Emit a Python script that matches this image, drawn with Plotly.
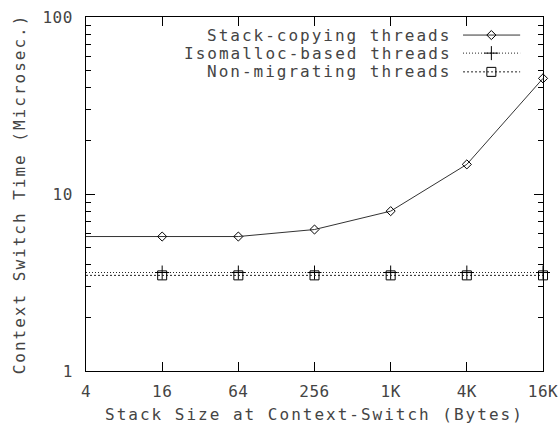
import plotly.graph_objects as go

# ---- data ----
stack_sizes = [4, 16, 64, 256, 1024, 4096, 16384]
x_tick_labels = ["4", "16", "64", "256", "1K", "4K", "16K"]
stack_copying = [5.75, 5.75, 5.75, 6.3, 8.0, 14.7, 45.0]
isomalloc = [3.6, 3.6, 3.6, 3.6, 3.6, 3.6, 3.6]
non_migrating = [3.47, 3.47, 3.47, 3.47, 3.47, 3.47, 3.47]
series_names = ["Stack-copying threads", "Isomalloc-based threads", "Non-migrating threads"]
y_tick_vals = [1, 10, 100]
y_tick_labels = ["1", "10", "100"]
x_title = "Stack Size at Context-Switch (Bytes)"
y_title = "Context Switch Time (Microsec.)"

FONT = "DejaVu Sans Mono"
FS = 16
TXT = "#444444"
PITCH = 11.6  # px per character incl. letter spacing (gnuplot-like wide font)

styles = [
    dict(dash="solid", symbol="diamond-open", size=7, color="#333333"),
    dict(dash="1px,2px", symbol="cross-thin-open", size=10, color="#222222"),
    dict(dash="2px,2px", symbol="square-open", size=9, color="#222222"),
]
series = [stack_copying, isomalloc, non_migrating]

fig = go.Figure()
for name, ys, st in zip(series_names, series, styles):
    fig.add_trace(go.Scatter(
        x=stack_sizes, y=ys, name=name, mode="lines+markers",
        line=dict(color=st["color"], width=1, dash=st["dash"]),
        marker=dict(symbol=st["symbol"], size=st["size"], color="black",
                    line=dict(color="black", width=1)),
        showlegend=False, cliponaxis=False,
    ))

# gnuplot-style key: right-aligned text followed by a line sample
L, W = 86, 457
key_rows = [0.949, 0.898, 0.845]
for name, st, ky in zip(series_names, styles, key_rows):
    fig.add_trace(go.Scatter(
        x=[0.825, 0.887, 0.950], y=[ky, ky, ky], xaxis="x2", yaxis="y2",
        mode="lines", line=dict(color=st["color"], width=1, dash=st["dash"]),
        showlegend=False, hoverinfo="skip"))
    fig.add_trace(go.Scatter(
        x=[0.887], y=[ky], xaxis="x2", yaxis="y2", mode="markers",
        marker=dict(symbol=st["symbol"], size=st["size"], color="black",
                    line=dict(color="black", width=1)),
        showlegend=False, hoverinfo="skip"))
    cx = (451 - len(name) * PITCH / 2 - L) / W
    fig.add_annotation(x=cx, y=ky, xref="paper", yref="paper",
                       text=name, showarrow=False, xanchor="center", yanchor="middle",
                       font=dict(family=FONT, size=FS, color=TXT))

# x-axis title placed just like gnuplot's xlabel
fig.add_annotation(x=0.5, y=0, xref="paper", yref="paper", text=x_title,
                   showarrow=False, xanchor="center", yanchor="middle", yshift=-43,
                   font=dict(family=FONT, size=FS, color=TXT))

axis_common = dict(
    showline=True, linecolor="black", linewidth=1, mirror="ticks",
    ticks="inside", tickcolor="black", showgrid=False, zeroline=False,
    automargin=False,
    tickfont=dict(family=FONT, size=FS, color=TXT),
)

fig.update_layout(
    width=560, height=424,
    margin=dict(l=86, r=17, t=17, b=53),
    plot_bgcolor="white", paper_bgcolor="white",
    xaxis=dict(type="log", range=[0.60206, 4.21442],
               tickvals=stack_sizes, ticktext=x_tick_labels, ticklen=9,
               ticklabelstandoff=6,
               **axis_common),
    yaxis=dict(type="log", range=[0, 2], tickvals=y_tick_vals, ticktext=y_tick_labels,
               ticklen=9, ticklabelstandoff=9,
               minor=dict(ticks="inside", ticklen=5, tickcolor="black", dtick="D1", showgrid=False),
               title=dict(text=y_title, standoff=14,
                          font=dict(family=FONT, size=FS, color=TXT)),
               **axis_common),
    xaxis2=dict(overlaying="x", range=[0, 1], visible=False, fixedrange=True),
    yaxis2=dict(overlaying="y", range=[0, 1], visible=False, fixedrange=True),
)

post = """
document.querySelectorAll('svg text').forEach(function(t){ t.style.letterSpacing='2px'; });
document.querySelectorAll('.xtick text, .ytick text').forEach(function(t){ t.style.letterSpacing='0.5px'; });
"""
fig.write_html("out.html", post_script=post)
